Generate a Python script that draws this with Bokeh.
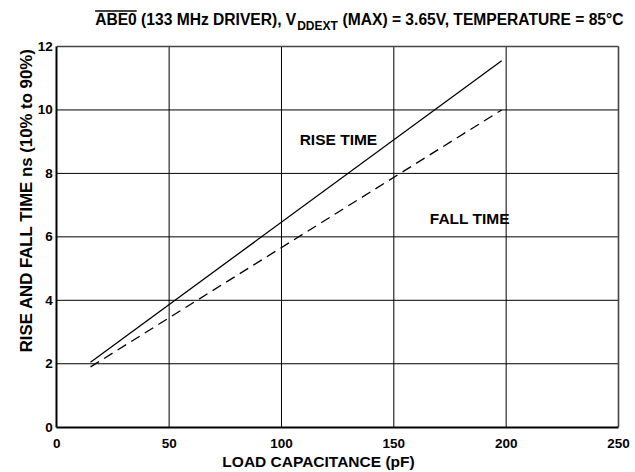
from math import pi
from bokeh.plotting import figure
from bokeh.models import Label, Arrow, Range1d, FixedTicker
from bokeh.embed import file_html
from bokeh.resources import INLINE
from bokeh.core.properties import value

# ---- data ----
load_pf = [15, 198]
rise_ns = [2.05, 11.55]
fall_ns = [1.90, 10.00]
x_ticks = [0, 50, 100, 150, 200, 250]
y_ticks = [0, 2, 4, 6, 8, 10, 12]

title_main = "ABE0 (133 MHz DRIVER), V"
title_sub = "DDEXT"
title_rest = "(MAX) = 3.65V, TEMPERATURE = 85°C"
x_label = "LOAD CAPACITANCE (pF)"
y_label = "RISE AND FALL TIME ns (10% to  90%)"

FONT = "Liberation Sans"
W, H = 635, 472
# plot box in canvas pixels
BL, BR, BT, BB = 56.3, 618.0, 46.0, 426.7
XMIN, XMAX, YMIN, YMAX = x_ticks[0], x_ticks[-1], y_ticks[0], y_ticks[-1]
sx = (BR - BL) / (XMAX - XMIN)
sy = (BB - BT) / (YMAX - YMIN)
DY = 6.0  # text baseline correction (px)

p = figure(width=W, height=H, output_backend="svg", toolbar_location=None,
           x_range=Range1d(XMIN - BL / sx, XMAX + (W - BR) / sx),
           y_range=Range1d(YMIN - (H - BB) / sy, YMAX + BT / sy),
           min_border=0, min_border_left=0, min_border_right=0,
           min_border_top=0, min_border_bottom=0)
p.background_fill_color = "white"
p.border_fill_color = "white"
p.outline_line_color = None
p.xgrid.visible = False
p.ygrid.visible = False

# grid lines inside the plot box, from the tick lists
inner_x = x_ticks[1:-1]
inner_y = y_ticks[1:-1]
p.segment(x0=inner_x, y0=[YMIN] * len(inner_x), x1=inner_x, y1=[YMAX] * len(inner_x),
          line_color="black", line_width=1)
p.segment(x0=[XMIN] * len(inner_y), y0=inner_y, x1=[XMAX] * len(inner_y), y1=inner_y,
          line_color="black", line_width=1)
# top and right edges of the box
p.segment(x0=[XMAX, XMIN], y0=[YMIN, YMAX], x1=[XMAX, XMAX], y1=[YMAX, YMAX],
          line_color="#444444", line_width=1.6)

p.xaxis[0].fixed_location = YMIN
p.yaxis[0].fixed_location = XMIN
p.xaxis[0].bounds = (XMIN, XMAX)
p.yaxis[0].bounds = (YMIN, YMAX)
for ax, ticks in ((p.xaxis[0], x_ticks), (p.yaxis[0], y_ticks)):
    ax.ticker = FixedTicker(ticks=ticks)
    ax.axis_line_color = "black"
    ax.axis_line_width = 2
    ax.major_tick_out = 0
    ax.major_tick_in = 0
    ax.minor_tick_out = 0
    ax.minor_tick_in = 0
    ax.major_label_text_font = FONT
    ax.major_label_text_font_size = "13.5px"
    ax.major_label_text_font_style = "bold"
    ax.major_label_text_color = "black"
p.xaxis[0].major_label_standoff = 12
p.yaxis[0].major_label_standoff = 4

p.line(load_pf, rise_ns, line_color="black", line_width=1.3)
p.line(load_pf, fall_ns, line_color="black", line_width=1.3, line_dash="10 6")

p.text(x=[108.1], y=[8.89 + DY / sy], text=["RISE TIME"], text_font=value(FONT),
       text_font_size="15.5px", text_font_style="bold", text_color="black",
       text_baseline="alphabetic", text_align="left")
p.text(x=[166.0], y=[6.39 + DY / sy], text=["FALL TIME"], text_font=value(FONT),
       text_font_size="15.5px", text_font_style="bold", text_color="black",
       text_baseline="alphabetic", text_align="left")

def lab(x, y, t, size, align="left", angle=0.0):
    # x, y in canvas pixels from the top-left corner
    p.add_layout(Label(x=x, y=y, x_units="canvas", y_units="canvas",
                       text=t, text_font=FONT, text_font_size=size,
                       text_font_style="bold", text_color="black",
                       text_baseline="alphabetic", text_align=align, angle=angle))

TS = 15.6
lab(295.7, 25 - DY, title_main, f"{TS}px", align="right")
lab(296.7, 31.7 - DY, title_sub, "12px", align="left")
lab(623, 25 - DY, title_rest, f"{TS}px", align="right")
lab(318, 467 - DY, x_label, "15.5px", align="center")
lab(31.7 - DY, 197.5, y_label, "16.8px", align="center", angle=pi / 2)

# overline over "ABE0"
x0 = 295.7 - 12.891 * TS
p.add_layout(Arrow(end=None, x_start=x0, y_start=10.5, x_end=x0 + 2.667 * TS,
                   y_end=10.5, start_units="canvas", end_units="canvas",
                   line_color="black", line_width=1.3))

open("out.html", "w").write(file_html(p, INLINE))
